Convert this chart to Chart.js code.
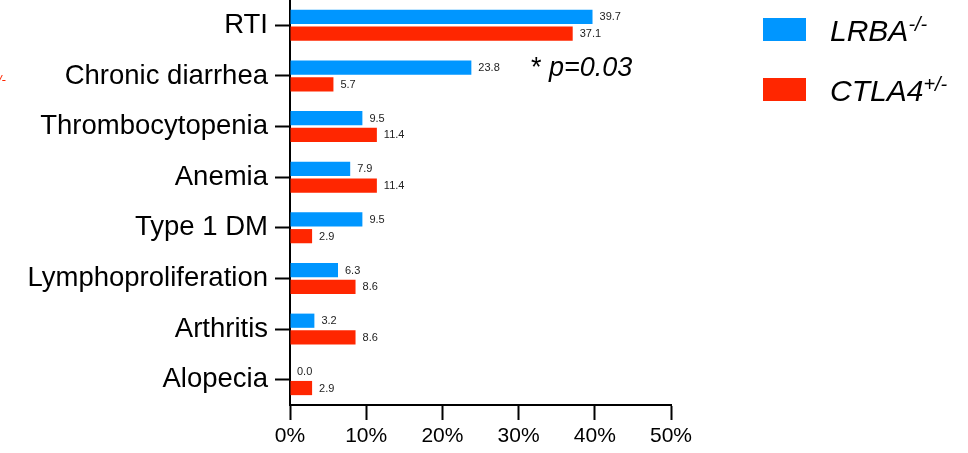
<!DOCTYPE html>
<html>
<head>
<meta charset="utf-8">
<script src="https://cdn.jsdelivr.net/npm/chart.js@4/dist/chart.umd.min.js"></script>
<style>
  html, body { margin: 0; padding: 0; background: #fff; }
  #wrap { position: relative; width: 968px; height: 453px; overflow: hidden; font-family: "Liberation Sans", Arial, sans-serif; }
  #chart { position: absolute; left: 0; top: 0; }
  .legend-item { position: absolute; left: 763px; }
  .swatch { width: 43px; height: 23px; }
  .legend-text { position: absolute; left: 67px; top: -2px; font-style: italic; font-size: 30px; color: #000; white-space: nowrap; line-height: 1; }
  .legend-text sup { font-size: 20px; position: relative; top: -2px; vertical-align: top; }
  #pval { position: absolute; left: 531px; top: 54px; font-size: 27px; color: #000; line-height: 1; white-space: nowrap; }
  #pval b { font-weight: normal; font-size: 30px; }
  #pval i { font-style: italic; }
  #edge { position: absolute; left: -2px; top: 73px; font-size: 13px; font-style: italic; color: #ff2600; line-height: 1; }
</style>
</head>
<body>
<div id="wrap">
  <canvas id="chart" width="968" height="453"></canvas>
  <div id="edge">/-</div>
  <div class="legend-item" style="top:18px;"><div class="swatch" style="background:#0096ff"></div><div class="legend-text">LRBA<sup>-/-</sup></div></div>
  <div class="legend-item" style="top:78px;"><div class="swatch" style="background:#ff2600"></div><div class="legend-text">CTLA4<sup>+/-</sup></div></div>
  <div id="pval">* <i>p=0.03</i></div>
</div>
<script>
// Clinical manifestations, percent of patients per cohort
const categories = ["RTI", "Chronic diarrhea", "Thrombocytopenia", "Anemia", "Type 1 DM", "Lymphoproliferation", "Arthritis", "Alopecia"];
const lrbaValues = [39.7, 23.8, 9.5, 7.9, 9.5, 6.3, 3.2, 0.0];
const ctla4Values = [37.1, 5.7, 11.4, 11.4, 2.9, 8.6, 8.6, 2.9];
const xTicks = [0, 10, 20, 30, 40, 50];

const BLUE = "#0096ff";
const RED = "#ff2600";

// Writes each bar's value just past its end
const valueLabels = {
  id: "valueLabels",
  afterDatasetsDraw(chart) {
    const ctx = chart.ctx;
    ctx.save();
    ctx.font = "11px 'Liberation Sans', Arial, sans-serif";
    ctx.fillStyle = "#222";
    ctx.textAlign = "left";
    ctx.textBaseline = "middle";
    chart.data.datasets.forEach((ds, di) => {
      chart.getDatasetMeta(di).data.forEach((bar, i) => {
        ctx.fillText(ds.data[i].toFixed(1), bar.x + 7, bar.y + 0.5);
      });
    });
    ctx.restore();
  }
};

new Chart(document.getElementById("chart"), {
  type: "bar",
  data: {
    labels: categories,
    datasets: [
      { label: "LRBA-/-", data: lrbaValues, backgroundColor: BLUE, categoryPercentage: 0.66, barPercentage: 0.85 },
      { label: "CTLA4+/-", data: ctla4Values, backgroundColor: RED, categoryPercentage: 0.66, barPercentage: 0.85 }
    ]
  },
  options: {
    indexAxis: "y",
    responsive: false,
    animation: false,
    layout: { padding: { left: 0, right: 297, top: 0, bottom: 0 } },
    plugins: { legend: { display: false }, tooltip: { enabled: false } },
    scales: {
      x: {
        type: "linear",
        min: 0,
        max: 50,
        afterBuildTicks(scale) { scale.ticks = xTicks.map(v => ({ value: v })); },
        afterFit(scale) { scale.height = 48; },
        border: { display: true, color: "#000", width: 2 },
        grid: { drawOnChartArea: false, drawTicks: true, tickLength: 15, tickWidth: 2, tickColor: "#000" },
        ticks: {
          color: "#000",
          font: { family: "'Liberation Sans', Arial, sans-serif", size: 21 },
          padding: 4,
          maxRotation: 0,
          callback: v => v + "%"
        }
      },
      y: {
        type: "category",
        offset: true,
        afterFit(scale) {
          scale.width = 290;
          // let the category band start at the very top of the canvas
          scale.paddingTop = 0;
          scale.paddingBottom = 0;
        },
        border: { display: true, color: "#000", width: 2 },
        grid: { drawOnChartArea: false, drawTicks: true, tickLength: 15, tickWidth: 2, tickColor: "#000", offset: false },
        ticks: {
          color: "#000",
          font: { family: "'Liberation Sans', Arial, sans-serif", size: 27.5 },
          padding: 7
        }
      }
    }
  },
  plugins: [valueLabels]
});
</script>
</body>
</html>
